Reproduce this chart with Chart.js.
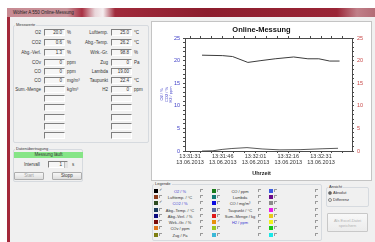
<!DOCTYPE html>
<html>
<head>
<meta charset="utf-8">
<script src="https://cdn.jsdelivr.net/npm/chart.js@4.4.0/dist/chart.umd.min.js"></script>
<style>
  html, body { margin: 0; padding: 0; width: 375px; height: 242px; overflow: hidden; background: #fff;
    font-family: "Liberation Sans", Arial, sans-serif; }
  .abs { position: absolute; }
  #frame { left: 7px; top: 8px; width: 368px; height: 234px; background: #a3293a; }
  #titlebar { left: 7px; top: 8px; width: 368px; height: 9px;
    background: linear-gradient(90deg, #c78a92 0px, #c9949b 60px, #a83042 75px, #e9d6da 88px, #f4eef0 96px, #a02a3b 108px, #8c1d2d 200px, #9a2536 330px, #c07f88 350px, #b36c76 368px); }
  #titletext { left: 13px; top: 10px; font-size: 4.5px; color: #222; white-space: nowrap; }
  #client { left: 10px; top: 17px; width: 365px; height: 225px; background: #f0f0f0; }
  .grp { position: absolute; border: 1px solid #d6dadf; border-radius: 2px; box-sizing: border-box; }
  .grpt { position: absolute; font-size: 4px; color: #333; background: #f0f0f0; padding: 0 1px; white-space: nowrap; line-height: 5px; }
  .lbl { position: absolute; font-size: 4.5px; color: #333; white-space: nowrap; line-height: 7px; }
  .tb { position: absolute; height: 7px; box-sizing: border-box; border-top: 1px solid #7f7f7f; border-left: 1px solid #7f7f7f;
    border-bottom: 1px solid #fff; border-right: 1px solid #fff; background: #f6f6f6; font-size: 4.5px; line-height: 6px;
    text-align: right; padding-right: 2px; color: #333; }
  .btn { position: absolute; box-sizing: border-box; border: 1px solid #adadad; border-radius: 1px;
    background: linear-gradient(#f6f6f6, #dedede); font-size: 4.5px; text-align: center; color: #333; }
  .sw { position: absolute; width: 4px; height: 4px; }
  .cb { position: absolute; width: 3px; height: 3px; border: 1px solid #9a9a9a; background: #fafafa; box-sizing: content-box; }
  .ck { position: absolute; font-size: 4px; color: #333; line-height: 4px; }
  #chartbox { left: 152px; top: 22px; width: 219px; height: 158px; background: #fff; outline: 1px solid #c4c4c4; }
</style>
</head>
<body>
<div id="frame" class="abs"></div>
<div id="titlebar" class="abs"></div>
<div id="titletext" class="abs">Wöhler A 550 Online-Messung</div>
<div id="client" class="abs"></div>
<div id="ui"></div>
<div id="chartbox" class="abs"><canvas id="chart" width="219" height="158"></canvas></div>

<script>
// chart data (seconds after 13:31:31)
const o2Times = [5.5, 15, 19.5, 26.5, 32.5, 39, 47.5, 54, 59, 64, 68.5];
const o2Values = [21.2, 21.1, 20.9, 19.6, 20.0, 20.4, 20.8, 20.4, 20.4, 19.9, 19.9];
const co2Times = [5.5, 10.5, 14.7, 19.2, 26.1, 33, 41.2, 50.4, 60.9, 67.8];
const co2Values = [0.0, 0.05, 0.35, 0.55, 0.75, 0.45, 0.25, 0.3, 0.5, 0.6];
const timeLabels = { 0: "13:31:31", 15: "13:31:46", 30: "13:32:01", 45: "13:32:16", 60: "13:32:31" };
const dateLabel = "13.06.2013";
const yAxisTitle = ["O2 / %", "CO2 / %", "H2 / ppm"];

// form contents
const rowY = [32, 42, 52, 62, 71, 80, 89, 98, 107, 117, 126, 135];
const leftLabels = ["O2", "CO2", "Abg.-Verl.", "COv", "CO", "CO", "Sum.-Menge"];
const leftValues = ["20.0", "0.6", "1.3", "0", "0", "0", ""];
const leftUnits = ["%", "%", "%", "ppm", "ppm", "mg/m³", "kg/m³"];
const rightLabels = ["Lufttemp.", "Abg.-Temp.", "Wirk.-Gr.", "Zug", "Lambda", "Taupunkt", "H2"];
const rightValues = ["25.0", "26.2", "98.8", "0", "19.00", "22.4", "0"];
const rightUnits = ["°C", "°C", "%", "Pa", "", "°C", "ppm"];

const legendColors = [
  ["#000000", "#8b3a1a", "#2d4a1e", "#1a3a5c", "#0a0a80", "#7a0a0a", "#e0761e", "#7d7d10"],
  ["#1a7a1a", "#127a72", "#0a0ae0", "#5a6aa0", "#e01a1a", "#e8900a", "#9ac81e", "#3ab8d8"],
  ["#3c5ce0", "#6a0a8a", "#8a8a8a", "#e81ae8", "#e8c81a", "#f0f01a", "#1ac81a", "#1ae8e8"]
];
const legendNames = [
  ["O2 / %", "Lufttemp. / °C", "CO2 / %", "Abg.-Temp. / °C", "Abg.-Verl. / %", "Wirk.-Gr. / %", "COv / ppm", "Zug / Pa"],
  ["CO / ppm", "Lambda", "CO / mg/m³", "Taupunkt / °C", "Sum.-Menge / kg", "H2 / ppm", "", ""],
  ["", "", "", "", "", "", "", ""]
];
const legendOn = ["0-0", "0-2", "1-5"];
const legendRowY = [191, 197, 203, 210, 216, 222, 228, 235];

// ---- build the form ----
const ui = document.getElementById("ui");
function add(cls, style, text) {
  const d = document.createElement("div");
  d.className = cls;
  Object.assign(d.style, style);
  if (text !== undefined) d.innerHTML = text;
  ui.appendChild(d);
  return d;
}

add("grp", { left: "13px", top: "25px", width: "136px", height: "118px" });
add("grpt", { left: "15px", top: "22px" }, "Messwerte");

rowY.forEach((y, i) => {
  const t = (y - 3.5) + "px";
  add("tb", { left: "44px", top: t, width: "21px" }, leftValues[i] || "");
  add("tb", { left: "111px", top: t, width: "21px" }, rightValues[i] || "");
  if (leftLabels[i]) {
    add("lbl", { left: "0px", width: "41px", textAlign: "right", top: t }, leftLabels[i]);
    add("lbl", { left: "67px", top: t }, leftUnits[i]);
  }
  if (rightLabels[i]) {
    add("lbl", { left: "70px", width: "38px", textAlign: "right", top: t }, rightLabels[i]);
    add("lbl", { left: "134px", top: t }, rightUnits[i]);
  }
});

add("grp", { left: "13px", top: "149px", width: "70px", height: "33px" });
add("grpt", { left: "15px", top: "146px" }, "Datenübertragung");
add("abs", { left: "14px", top: "152px", width: "69px", height: "6px", background: "#86e586",
  fontSize: "4.5px", lineHeight: "6px", textAlign: "center", color: "#333" }, "Messung läuft");
add("lbl", { left: "24px", top: "160.5px" }, "Intervall");
add("tb", { left: "48px", top: "161px", width: "20px", paddingRight: "5px" }, "1");
add("abs", { left: "64px", top: "161.5px", width: "3px", height: "6px", background: "#e4e4e4", borderLeft: "1px solid #bbb" });
add("lbl", { left: "72px", top: "160.5px" }, "s");
add("btn", { left: "14px", top: "172px", width: "30px", height: "8px", color: "#a0a0a0", lineHeight: "6px" }, "Start");
add("btn", { left: "52px", top: "172px", width: "30px", height: "8px", lineHeight: "6px" }, "Stopp");

add("grp", { left: "152px", top: "184px", width: "170px", height: "57px" });
add("grpt", { left: "154px", top: "181px" }, "Legende");
const colX = [154, 212, 269];
const col2X = [200, 258, 315];
const txtX = [180, 240, 0];
legendColors.forEach((col, c) => {
  col.forEach((color, r) => {
    const y = legendRowY[r];
    add("sw", { left: colX[c] + "px", top: (y - 2) + "px", background: color });
    const on = legendOn.includes(c + "-" + r);
    if (on) add("ck", { left: (colX[c] + 4.5) + "px", top: (y - 3) + "px" }, "✓");
    else add("cb", { left: (colX[c] + 5) + "px", top: (y - 2.5) + "px", width: "2px", height: "2px", background: "transparent", borderRight: "none", borderBottom: "none" });
    add("cb", { left: col2X[c] + "px", top: (y - 2.5) + "px", width: "2px", height: "2px", background: "transparent", borderRight: "none", borderBottom: "none" });
    if (legendNames[c][r]) {
      add("lbl", { left: (txtX[c] - 20) + "px", width: "40px", textAlign: "center", top: (y - 3.5) + "px",
        fontSize: "4px", color: on ? "#3a3ad0" : "#333" }, legendNames[c][r]);
    }
  });
});

add("grp", { left: "326px", top: "187px", width: "43px", height: "20px" });
add("grpt", { left: "328px", top: "184px" }, "Ansicht");
add("abs", { left: "328px", top: "191px", width: "2px", height: "2px", borderRadius: "50%", border: "1px solid #888", background: "#555" });
add("lbl", { left: "333px", top: "188.5px", fontSize: "4px" }, "Absolut");
add("abs", { left: "328px", top: "198px", width: "2px", height: "2px", borderRadius: "50%", border: "1px solid #888" });
add("lbl", { left: "333px", top: "195.5px", fontSize: "4px" }, "Differenz");
add("btn", { left: "327px", top: "213px", width: "41px", height: "19px", color: "#b0b0b0", fontSize: "4px",
  lineHeight: "5px", paddingTop: "4px", background: "linear-gradient(#f8f8f8,#ececec)", borderColor: "#c8c8c8" },
  "Als Excel-Datei<br>speichern");

// ---- chart ----
const ticks5 = [];
for (let s = 0; s <= 70; s += 5) ticks5.push({ value: s });
const ticks1 = [];
for (let v = 0; v <= 25; v++) ticks1.push({ value: v });

const axisColor = "#4a4a4a";
const blue = "#4040c8";
const red = "#c84848";

function xAxis(pos, h, showLabels) {
  return {
    type: "linear", position: pos, min: -2.3, max: 74.2,
    afterBuildTicks: s => { s.ticks = ticks5.map(t => ({ value: t.value })); },
    afterFit: s => { s.height = h; },
    grid: { drawOnChartArea: false, tickLength: 2, color: axisColor },
    border: { color: axisColor },
    ticks: {
      display: showLabels, autoSkip: false, maxRotation: 0, padding: 0, color: "#333",
      font: { size: 5.5, family: "Liberation Sans", lineHeight: 1.2 },
      callback: v => timeLabels[v] ? [timeLabels[v], dateLabel] : ""
    }
  };
}
function yAxis(pos, w, color, withTitle) {
  return {
    type: "linear", position: pos, min: 0, max: 25,
    afterBuildTicks: s => { s.ticks = ticks1.map(t => ({ value: t.value })); },
    afterFit: s => { s.width = w; },
    grid: { drawOnChartArea: false, tickLength: 2, color: axisColor },
    border: { color: axisColor },
    ticks: {
      autoSkip: false, padding: 3, color: color,
      font: { size: 5.5, family: "Liberation Sans" },
      callback: v => (v % 5 === 0 ? String(v) : "")
    },
    title: {
      display: withTitle, text: yAxisTitle, color: blue,
      font: { size: 4, family: "Liberation Sans", lineHeight: 1.1 },
      padding: { top: 7.8, bottom: 0 }
    }
  };
}

new Chart(document.getElementById("chart"), {
  type: "line",
  data: {
    datasets: [
      { label: "O2 / %", data: o2Times.map((t, i) => ({ x: t, y: o2Values[i] })),
        borderColor: "#3c3c3c", borderWidth: 1, pointRadius: 0, tension: 0, xAxisID: "x", yAxisID: "y" },
      { label: "CO2 / %", data: co2Times.map((t, i) => ({ x: t, y: co2Values[i] })),
        borderColor: "#5a5a5a", borderWidth: 1, pointRadius: 0, tension: 0, xAxisID: "x", yAxisID: "y" }
    ]
  },
  options: {
    responsive: false,
    animation: false,
    devicePixelRatio: 1,
    layout: { padding: 0 },
    plugins: {
      legend: { display: false },
      tooltip: { enabled: false },
      title: { display: true, text: "Online-Messung", color: "#111",
        font: { size: 7.5, weight: "bold", family: "Liberation Sans", lineHeight: 1 }, padding: { top: 4, bottom: 0 } },
      subtitle: { display: true, position: "bottom", text: "Uhrzeit", color: "#222",
        font: { size: 5.5, weight: "bold", family: "Liberation Sans", lineHeight: 1 }, padding: { top: 0, bottom: 4 } }
    },
    scales: {
      x: xAxis("bottom", 19.5, true),
      x2: xAxis("top", 4.5, false),
      y: yAxis("left", 33, blue, true),
      y2: yAxis("right", 19, red, false)
    }
  }
});
</script>
</body>
</html>
